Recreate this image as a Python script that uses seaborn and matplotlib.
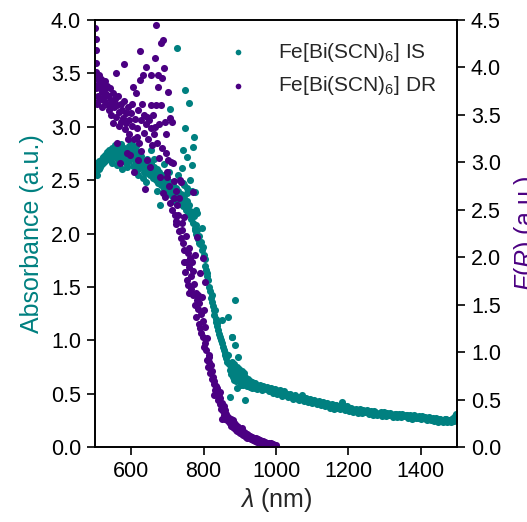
import matplotlib
matplotlib.use("Agg")
import matplotlib.pyplot as plt
import seaborn as sns
import pandas as pd

# ---------------- data ----------------
# Fe[Bi(SCN)6] IS : absorbance (left axis)
is_nm = [500, 502, 504, 506, 508, 510, 512, 515, 518, 520, 522, 525, 528, 530, 533, 535, 538, 540, 543, 545,
         548, 550, 553, 555, 558, 560, 563, 565, 568, 570, 573, 575, 578, 580, 583, 585, 588, 590, 593, 595,
         598, 600, 603, 605, 608, 610, 613, 615, 618, 620, 623, 625, 628, 630, 633, 635, 638, 640, 643, 645,
         648, 650, 653, 655, 658, 660, 663, 665, 668, 670, 673, 675, 678, 680, 683, 685, 688, 690, 693, 695,
         698, 700, 703, 705, 708, 710, 713, 715, 718, 720, 723, 725, 728, 730, 733, 735, 738, 740, 743, 745,
         748, 750, 753, 755, 758, 760, 763, 765, 768, 770, 773, 775, 778, 780, 783, 785, 788, 790, 793, 795,
         798, 800, 803, 805, 808, 810, 813, 815, 818, 820, 823, 825, 828, 830, 833, 835, 838, 840, 843, 845,
         848, 850, 853, 855, 858, 860, 863, 865,
         600, 620, 640, 655, 670, 690, 705, 715, 730, 745, 755, 768, 778, 588, 575, 560, 547, 612, 632, 662,
         726, 748, 759, 707, 748, 773, 770, 743, 754, 768, 740, 743, 762, 754, 776, 781, 795, 679, 786, 776,
         809, 822, 850, 867, 886, 878, 864, 831, 838,
         868, 870, 872, 873, 875, 877, 878, 879, 880, 881, 883, 885, 886, 887, 889, 891, 892, 893, 895, 895,
         897, 899, 901, 903, 905, 907, 909, 911, 913, 914, 915, 917, 919, 921, 923, 925, 927, 929, 931, 933,
         935, 937, 939, 941, 943, 945, 947, 950, 884, 890, 896, 904, 912, 920, 928, 936, 944]
is_abs = [2.62, 2.58, 2.66, 2.55, 2.64, 2.60, 2.68, 2.62, 2.70, 2.65, 2.72, 2.67, 2.74, 2.69, 2.76, 2.70, 2.73, 2.78, 2.71, 2.75,
          2.80, 2.72, 2.77, 2.83, 2.74, 2.79, 2.69, 2.81, 2.76, 2.72, 2.84, 2.78, 2.70, 2.80, 2.75, 2.66, 2.79, 2.73, 2.82, 2.68,
          2.76, 2.71, 2.79, 2.63, 2.74, 2.69, 2.77, 2.66, 2.72, 2.60, 2.70, 2.65, 2.73, 2.62, 2.68, 2.58, 2.66, 2.61, 2.70, 2.57,
          2.64, 2.60, 2.55, 2.66, 2.59, 2.52, 2.62, 2.57, 2.50, 2.60, 2.54, 2.47, 2.58, 2.52, 2.45, 2.55, 2.48, 2.42, 2.52, 2.46,
          2.40, 2.50, 2.44, 2.38, 2.48, 2.42, 2.35, 2.45, 2.39, 2.33, 2.43, 2.36, 2.30, 2.40, 2.34, 2.28, 2.37, 2.31, 2.26, 2.35,
          2.29, 2.22, 2.30, 2.25, 2.18, 2.27, 2.21, 2.14, 2.20, 2.10, 2.16, 2.05, 2.08, 2.00, 2.03, 1.95, 1.98, 1.90, 1.92, 1.85,
          1.87, 1.80, 1.76, 1.70, 1.66, 1.60, 1.56, 1.50, 1.46, 1.40, 1.36, 1.32, 1.28, 1.24, 1.20, 1.17, 1.13, 1.10, 1.06, 1.03,
          1.00, 0.97, 0.94, 0.91, 0.88, 0.86, 0.83, 0.80,
          2.85, 2.55, 2.48, 2.78, 2.40, 2.65, 2.58, 2.30, 2.55, 2.45, 2.38, 2.40, 2.22, 2.62, 2.60, 2.64, 2.66, 2.82, 2.52, 2.70,
          3.74, 3.34, 3.22, 3.17, 2.99, 2.90, 2.81, 2.78, 2.72, 2.64, 2.61, 2.47, 2.50, 2.43, 2.39, 2.19, 2.05, 2.27, 1.91, 2.03,
          1.63, 1.42, 1.19, 1.22, 1.38, 1.03, 0.86, 1.28, 1.16,
          0.86, 0.78, 0.72, 0.47, 0.76, 0.68, 1.03, 0.80, 0.70, 0.66, 0.74, 0.63, 0.96, 0.72, 0.68, 0.75, 0.55, 0.65, 0.84, 0.70,
          0.62, 0.73, 0.67, 0.60, 0.71, 0.64, 0.58, 0.69, 0.62, 0.44, 0.66, 0.60, 0.63, 0.57, 0.64, 0.60, 0.56, 0.62, 0.58, 0.61,
          0.55, 0.59, 0.57, 0.60, 0.55, 0.58, 0.54, 0.57, 0.78, 0.62, 0.66, 0.58, 0.65, 0.59, 0.61, 0.56, 0.57]

is_tail_nm = [953, 959, 965, 971, 977, 983, 989, 995, 1001, 1007, 1013, 1019, 1025, 1031, 1037, 1043, 1049, 1055, 1061, 1067,
              1073, 1079, 1085, 1091, 1097, 1103, 1109, 1115, 1121, 1127, 1133, 1139, 1145, 1151, 1157, 1163, 1169, 1175, 1181, 1187,
              1193, 1199, 1205, 1211, 1217, 1223, 1229, 1235, 1241, 1247, 1253, 1259, 1265, 1271, 1277, 1283, 1289, 1295, 1301, 1307,
              1313, 1319, 1325, 1331, 1337, 1343, 1349, 1355, 1361, 1367, 1373, 1379, 1385, 1391, 1397, 1403, 1409, 1415, 1421, 1427,
              1433, 1439, 1445, 1451, 1457, 1463, 1469, 1475, 1481, 1487, 1491, 1494, 1496, 1498]
is_tail_abs = [0.56, 0.55, 0.57, 0.54, 0.55, 0.53, 0.54, 0.52, 0.53, 0.51, 0.50, 0.51, 0.49, 0.50, 0.48, 0.47, 0.48, 0.46, 0.45, 0.47,
               0.49, 0.44, 0.45, 0.43, 0.44, 0.42, 0.43, 0.41, 0.42, 0.40, 0.41, 0.39, 0.40, 0.39, 0.38, 0.39, 0.37, 0.38, 0.42, 0.37,
               0.36, 0.37, 0.35, 0.36, 0.35, 0.34, 0.35, 0.34, 0.35, 0.33, 0.34, 0.33, 0.32, 0.34, 0.32, 0.31, 0.33, 0.32, 0.31, 0.32,
               0.30, 0.31, 0.30, 0.31, 0.29, 0.30, 0.31, 0.29, 0.30, 0.28, 0.29, 0.28, 0.29, 0.27, 0.28, 0.29, 0.27, 0.26, 0.27, 0.25,
               0.27, 0.26, 0.25, 0.26, 0.24, 0.25, 0.26, 0.24, 0.25, 0.26, 0.24, 0.29, 0.31, 0.27]
is_tail2_nm = [956, 962, 968, 974, 980, 986, 992, 998, 1004, 1010, 1016, 1022, 1028, 1034, 1040, 1046, 1052, 1058, 1064, 1070,
               1076, 1082, 1088, 1094, 1100, 1106, 1112, 1118, 1124, 1130, 1136, 1142, 1148, 1154, 1160, 1166, 1172, 1178, 1184, 1190,
               1196, 1202, 1208, 1214, 1220, 1226, 1232, 1238, 1244, 1250, 1256, 1262, 1268, 1274, 1280, 1286, 1292, 1298, 1304, 1310,
               1316, 1322, 1328, 1334, 1340, 1346, 1352, 1358, 1364, 1370, 1376, 1382, 1388, 1394, 1400, 1406, 1412, 1418, 1424, 1430,
               1436, 1442, 1448, 1454, 1460, 1466, 1472, 1478, 1484, 1489]
is_tail2_abs = [0.58, 0.53, 0.55, 0.56, 0.52, 0.55, 0.51, 0.54, 0.50, 0.53, 0.48, 0.52, 0.50, 0.47, 0.50, 0.45, 0.49, 0.47, 0.44, 0.46,
                0.43, 0.46, 0.42, 0.45, 0.41, 0.44, 0.40, 0.43, 0.39, 0.42, 0.38, 0.41, 0.37, 0.40, 0.36, 0.39, 0.38, 0.36, 0.39, 0.35,
                0.38, 0.34, 0.37, 0.33, 0.36, 0.32, 0.36, 0.32, 0.33, 0.35, 0.31, 0.34, 0.30, 0.33, 0.30, 0.32, 0.29, 0.33, 0.29, 0.31,
                0.32, 0.28, 0.31, 0.28, 0.31, 0.28, 0.29, 0.30, 0.27, 0.30, 0.26, 0.30, 0.27, 0.29, 0.26, 0.27, 0.28, 0.25, 0.28, 0.26,
                0.24, 0.27, 0.23, 0.26, 0.23, 0.26, 0.23, 0.25, 0.23, 0.27]

# Fe[Bi(SCN)6] DR : Kubelka-Munk F(R) (right axis)
dr_nm = [501, 502, 503, 502, 504, 505, 503, 507, 509, 506, 511, 513, 515, 512, 517, 519, 521, 523, 520, 525,
         527, 529, 531, 533, 535, 537, 539, 541, 543, 545, 547, 549, 551, 553, 555, 557, 559, 561, 563, 565,
         567, 569, 571, 573, 575, 577, 579, 581, 583, 585, 587, 589, 591, 593, 595, 597, 599, 601, 603, 605,
         607, 609, 611, 613, 615, 617, 619, 621, 623, 624, 626, 628, 630, 632, 634, 636, 638, 640, 641, 643,
         645, 647, 650, 652, 654, 656, 658, 660, 662, 665, 666, 668, 669, 671, 673, 674, 676, 678, 680, 682,
         683, 684, 686, 688, 689, 690, 692, 693, 695, 697, 699, 701, 703, 705, 707, 708, 710, 712, 713, 715,
         717, 719, 721, 723, 725, 727, 729, 731, 733, 735, 737, 738, 740, 741, 743, 745, 747, 748, 750, 752,
         754, 756, 757, 759, 761, 762, 764, 766, 768, 770, 770, 772, 774, 776, 777, 778, 780, 781, 782, 784,
         786, 788, 790, 790, 792, 794, 795, 797, 798, 799, 801, 803, 803, 805, 807, 809, 810, 812, 814, 816,
         818, 820, 822, 824, 826, 828, 830, 832, 834, 836, 838, 840, 842, 844, 846, 848, 850, 851, 853, 855,
         857, 859, 861, 863, 865, 867, 869, 871, 873, 875, 877, 879, 881, 883, 885, 887, 889, 891, 893, 895,
         897, 899, 901, 903, 905, 907, 909, 911, 913, 915, 917, 919, 921, 923, 925, 927, 930, 933, 936, 939,
         942, 945, 948, 951, 954, 957, 960, 963, 966, 969, 972, 975, 978, 981, 984, 987, 990, 993, 996, 999,
         560, 590, 620, 655, 700, 725, 745, 760, 785, 800, 815, 830, 845, 860, 880, 905, 935, 960, 985]
dr_fr = [4.42, 4.30, 4.18, 4.05, 3.95, 3.88, 3.78, 3.82, 3.70, 3.62, 3.92, 3.85, 3.78, 3.66, 3.88, 3.74, 3.81, 3.68, 3.58, 3.76,
         3.86, 3.64, 3.72, 3.80, 3.60, 3.70, 3.55, 3.78, 3.66, 3.50, 3.62, 3.73, 3.41, 3.58, 3.67, 3.94, 3.48, 3.60, 3.70, 3.53,
         3.38, 2.99, 3.42, 3.62, 3.55, 3.47, 4.04, 3.65, 3.35, 3.52, 3.41, 3.10, 3.58, 3.45, 3.30, 3.08, 3.52, 3.38, 3.62, 3.79,
         3.25, 2.90, 3.46, 3.73, 3.27, 3.36, 3.55, 3.20, 3.87, 4.17, 3.45, 3.12, 3.62, 3.92, 3.31, 3.50, 2.72, 3.40, 4.00, 3.02,
         3.48, 3.25, 3.45, 2.95, 3.36, 3.92, 3.18, 3.50, 3.30, 4.10, 3.37, 4.45, 3.60, 3.20, 3.79, 3.92, 3.05, 3.40, 2.85, 3.60,
         4.26, 3.89, 3.15, 4.29, 2.68, 3.99, 3.42, 2.63, 3.10, 3.30, 2.90, 3.74, 3.02, 2.75, 3.47, 2.57, 3.00, 3.42, 2.50, 2.99,
         2.80, 2.62, 2.45, 2.70, 2.38, 2.55, 2.44, 2.28, 2.62, 2.81, 2.79, 2.20, 2.36, 2.29, 2.15, 2.08, 2.42, 1.84, 2.22, 1.95,
         1.76, 2.04, 1.71, 1.90, 2.10, 1.99, 1.80, 1.66, 1.95, 2.69, 1.60, 1.85, 1.72, 1.50, 2.02, 1.37, 1.62, 2.21, 1.55, 1.45,
         1.30, 1.52, 1.83, 1.25, 1.40, 1.20, 1.58, 1.33, 1.99, 1.16, 1.44, 1.74, 1.10, 1.26, 1.02, 0.92, 1.15, 0.84, 0.97, 0.90,
         0.78, 0.86, 0.72, 0.80, 0.74, 0.66, 0.70, 0.60, 0.64, 0.55, 0.62, 0.50, 0.56, 0.45, 0.52, 0.40, 0.30, 0.46, 0.38, 0.43,
         0.34, 0.39, 0.30, 0.35, 0.28, 0.32, 0.26, 0.30, 0.25, 0.29, 0.22, 0.27, 0.21, 0.25, 0.20, 0.24, 0.18, 0.22, 0.17, 0.21,
         0.16, 0.19, 0.15, 0.18, 0.14, 0.17, 0.13, 0.16, 0.12, 0.15, 0.11, 0.14, 0.10, 0.13, 0.09, 0.12, 0.08, 0.11, 0.07, 0.10,
         0.06, 0.09, 0.05, 0.08, 0.05, 0.07, 0.04, 0.06, 0.03, 0.05, 0.03, 0.04, 0.02, 0.04, 0.02, 0.03, 0.01, 0.03, 0.01, 0.02,
         3.20, 3.25, 3.02, 3.60, 2.85, 2.35, 1.95, 1.62, 1.60, 1.05, 0.95, 0.55, 0.58, 0.30, 0.28, 0.20, 0.10, 0.05, 0.04]

is_label = "Fe[Bi(SCN)$_6$] IS"
dr_label = "Fe[Bi(SCN)$_6$] DR"
teal = "#008080"
indigo = "#4B0082"

df_is = pd.DataFrame({"nm": is_nm + is_tail_nm + is_tail2_nm,
                      "val": is_abs + is_tail_abs + is_tail2_abs})
df_dr = pd.DataFrame({"nm": dr_nm, "val": dr_fr})

# ---------------- style ----------------
sns.set_style("ticks")
plt.rcParams["font.family"] = ["Liberation Sans", "DejaVu Sans"]
plt.rcParams["mathtext.fontset"] = "custom"
plt.rcParams["mathtext.rm"] = "Liberation Sans"
plt.rcParams["mathtext.it"] = "Liberation Sans:italic"
plt.rcParams["mathtext.bf"] = "Liberation Sans:bold"

fig = plt.figure(figsize=(5.27, 5.22), dpi=100)
ax = fig.add_axes([95 / 527, 75 / 522, 362 / 527, 427 / 522])
ax2 = ax.twinx()

sns.scatterplot(data=df_is, x="nm", y="val", ax=ax, color=teal, s=26, linewidth=0, label=is_label, legend=False)
sns.scatterplot(data=df_dr, x="nm", y="val", ax=ax2, color=indigo, s=26, linewidth=0, label=dr_label, legend=False)

ax.set_xlim(500, 1500)
ax.set_ylim(0, 4.0)
ax2.set_ylim(0, 4.5)
ax.set_xticks([600, 800, 1000, 1200, 1400])
ax.set_yticks([0.0, 0.5, 1.0, 1.5, 2.0, 2.5, 3.0, 3.5, 4.0])
ax2.set_yticks([0.0, 0.5, 1.0, 1.5, 2.0, 2.5, 3.0, 3.5, 4.0, 4.5])
ax.yaxis.set_major_formatter(matplotlib.ticker.FormatStrFormatter("%.1f"))
ax2.yaxis.set_major_formatter(matplotlib.ticker.FormatStrFormatter("%.1f"))

for a in (ax, ax2):
    a.tick_params(labelsize=15.5, length=6, width=1.2, direction="out", colors="black", pad=4)
    for sp in a.spines.values():
        sp.set_linewidth(1.2)
        sp.set_color("black")

ax.set_xlabel(r"$\lambda$ (nm)", fontsize=18, labelpad=3)
ax.set_ylabel("Absorbance (a.u.)", fontsize=18, color=teal, labelpad=5)
ax2.set_ylabel(r"$F(R)$ (a.u.)", fontsize=18, color=indigo, labelpad=8)

h1, l1 = ax.get_legend_handles_labels()
h2, l2 = ax2.get_legend_handles_labels()
ax2.legend(h1 + h2, l1 + l2, loc="upper right", frameon=False, fontsize=15,
           markerscale=0.8, handletextpad=0.9, borderaxespad=0.6)

fig.savefig("out.png", dpi=100)
